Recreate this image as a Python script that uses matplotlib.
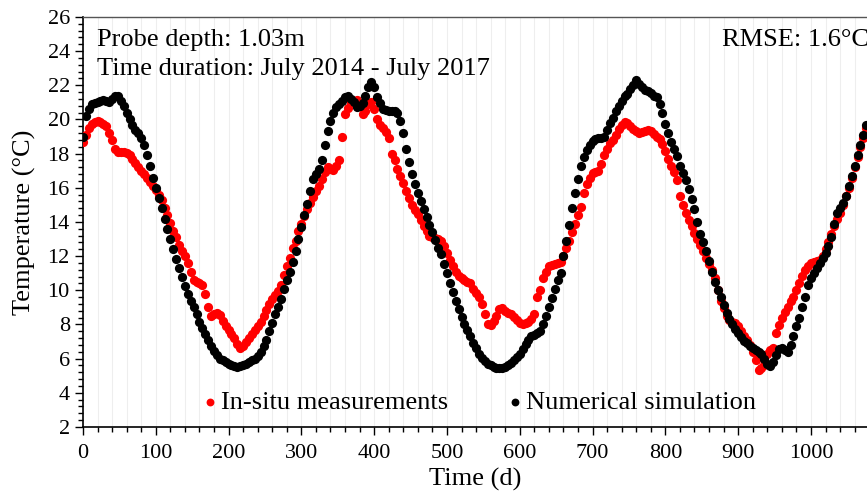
import numpy as np
import matplotlib
matplotlib.use("Agg")
import matplotlib.pyplot as plt
from matplotlib.ticker import AutoMinorLocator

plt.rcParams['font.family'] = ['Liberation Serif', 'DejaVu Serif']

# Time (d): one sample every 4 days, 0 .. 1076
days = np.arange(0, 1080, 4)

simulation = [
    19.0, 20.2, 20.6, 20.9, 20.95, 21.0, 21.1, 21.15, 21.1, 21.05,
    21.2, 21.35, 21.4, 21.1, 20.8, 20.4, 20.0, 19.7, 19.4, 19.2,
    18.9, 18.5, 17.9, 17.3, 16.6, 16.0, 15.4, 14.8, 14.2, 13.6,
    13.0, 12.4, 11.85, 11.3, 10.8, 10.25, 9.8, 9.4, 9.0, 8.6,
    8.15, 7.8, 7.45, 7.1, 6.75, 6.45, 6.2, 6.0, 5.9, 5.8,
    5.7, 5.6, 5.55, 5.5, 5.55, 5.6, 5.7, 5.8, 5.9, 6.0,
    6.15, 6.4, 6.75, 7.1, 7.6, 8.1, 8.6, 9.05, 9.5, 10.05,
    10.6, 11.1, 11.65, 12.3, 13.0, 13.7, 14.4, 15.05, 15.8, 16.5,
    16.8, 17.1, 17.6, 18.5, 19.3, 19.9, 20.4, 20.75, 20.9, 21.1,
    21.3, 21.4, 21.2, 21.0, 20.75, 20.8, 20.95, 21.4, 21.9, 22.2,
    21.9, 21.3, 20.95, 20.6, 20.55, 20.5, 20.5, 20.5, 20.4, 19.9,
    19.2, 18.3, 17.5, 16.8, 16.2, 15.7, 15.2, 14.75, 14.3, 13.85,
    13.4, 12.95, 12.5, 12.1, 11.55, 11.0, 10.45, 9.9, 9.4, 8.9,
    8.45, 8.0, 7.65, 7.3, 6.9, 6.6, 6.3, 6.05, 5.85, 5.7,
    5.6, 5.5, 5.45, 5.45, 5.45, 5.5, 5.6, 5.75, 5.9, 6.1,
    6.3, 6.55, 6.85, 7.1, 7.3, 7.4, 7.5, 7.6, 8.0, 8.5,
    9.0, 9.55, 10.1, 10.6, 11.0, 12.0, 12.9, 13.85, 14.8, 15.7,
    16.5, 17.3, 17.8, 18.2, 18.5, 18.75, 18.85, 18.9, 18.9, 19.0,
    19.4, 19.8, 20.1, 20.5, 20.8, 21.1, 21.35, 21.5, 21.8, 22.0,
    22.3, 22.1, 21.9, 21.75, 21.65, 21.55, 21.4, 21.3, 20.9, 20.4,
    19.75, 19.2, 18.7, 18.3, 17.85, 17.3, 16.85, 16.45, 15.95, 15.35,
    14.75, 14.0, 13.3, 12.8, 12.3, 11.7, 11.1, 10.5, 10.0, 9.6,
    9.15, 8.7, 8.3, 8.0, 7.75, 7.5, 7.25, 7.05, 6.9, 6.75,
    6.6, 6.5, 6.4, 6.25, 6.0, 5.7, 5.55, 5.8, 6.2, 6.55,
    6.6, 6.5, 6.4, 6.8, 7.3, 7.9, 8.4, 9.0, 9.6, 10.3,
    10.7, 11.0, 11.3, 11.6, 11.9, 12.2, 12.6, 13.1, 13.9, 14.5,
    14.8, 15.1, 15.5, 16.1, 16.7, 17.3, 17.9, 18.5, 19.1, 19.7,
]

measured = [
    18.7, 19.1, 19.5, 19.75, 19.85, 19.9, 19.85, 19.75, 19.6, 19.2,
    18.8, 18.3, 18.1, 18.1, 18.1, 18.05, 17.9, 17.7, 17.45, 17.2,
    17.0, 16.8, 16.6, 16.35, 16.1, 15.85, 15.6, 15.3, 14.8, 14.4,
    13.95, 13.5, 13.1, 12.65, 12.3, 12.0, 11.6, 11.1, 10.6, 10.5,
    10.45, 10.3, 9.8, 9.0, 8.5, 8.6, 8.7, 8.55, 8.2, 7.9,
    7.7, 7.45, 7.2, 6.85, 6.6, 6.75, 6.95, 7.2, 7.45, 7.7,
    7.9, 8.15, 8.5, 8.85, 9.2, 9.5, 9.7, 9.95, 10.3, 10.9,
    11.4, 11.9, 12.45, 12.9, 13.45, 13.9, 14.35, 14.75, 15.1, 15.45,
    15.8, 16.1, 16.5, 16.9, 17.2, 17.1, 17.05, 17.3, 17.6, 19.0,
    20.3, 20.7, 21.0, 21.1, 21.15, 20.8, 20.3, 20.5, 20.9, 21.05,
    20.6, 20.0, 19.7, 19.5, 19.25, 18.9, 18.0, 17.6, 17.1, 16.7,
    16.3, 15.8, 15.4, 15.0, 14.7, 14.45, 14.1, 13.75, 13.5, 13.2,
    13.1, 13.05, 13.0, 12.9, 12.6, 12.2, 11.8, 11.45, 11.1, 10.85,
    10.7, 10.6, 10.5, 10.4, 10.1, 9.85, 9.6, 9.2, 8.6, 8.0,
    7.95, 8.2, 8.5, 8.9, 8.95, 8.8, 8.7, 8.6, 8.45, 8.25,
    8.1, 8.05, 8.1, 8.15, 8.3, 8.6, 9.6, 10.0, 10.7, 11.1,
    11.4, 11.5, 11.55, 11.6, 11.65, 12.0, 12.45, 12.9, 13.4, 13.9,
    14.4, 14.9, 15.7, 16.2, 16.6, 16.85, 16.95, 17.0, 17.4, 17.9,
    18.3, 18.6, 18.8, 19.1, 19.45, 19.65, 19.85, 19.8, 19.6, 19.45,
    19.3, 19.2, 19.25, 19.3, 19.4, 19.3, 19.15, 19.0, 18.85, 18.55,
    18.15, 17.7, 17.3, 16.9, 16.45, 15.5, 15.0, 14.5, 14.1, 13.75,
    13.35, 13.0, 12.65, 12.3, 11.9, 11.55, 11.2, 10.7, 10.0, 9.4,
    8.95, 8.5, 8.25, 8.15, 8.1, 7.9, 7.6, 7.35, 7.1, 6.8,
    6.4, 5.9, 5.35, 5.45, 5.65, 6.3, 6.5, 6.6, 7.5, 7.95,
    8.4, 8.75, 9.05, 9.35, 9.6, 10.0, 10.4, 10.85, 11.2, 11.45,
    11.6, 11.65, 11.7, 11.8, 12.0, 12.4, 12.85, 13.3, 13.75, 14.2,
    14.5, 15.0, 15.5, 16.0, 16.6, 17.2, 17.8, 18.4, 18.9, 19.5,
]

x_ticks = [0, 100, 200, 300, 400, 500, 600, 700, 800, 900, 1000]
y_ticks = [2, 4, 6, 8, 10, 12, 14, 16, 18, 20, 22, 24, 26]

fig = plt.figure(figsize=(8.67, 4.99), dpi=100)
ax = fig.add_axes([0.0957, 0.1443, 0.9043, 0.8217])

ax.scatter(days, measured, s=44, color='#ff0000', linewidths=0, zorder=3,
           label='In-situ measurements')
ax.scatter(days, simulation, s=44, color='#000000', linewidths=0, zorder=4,
           label='Numerical simulation')

ax.set_xlim(0, 1077)
ax.set_ylim(2, 26)
ax.set_xticks(x_ticks)
ax.set_yticks(y_ticks)
ax.xaxis.set_minor_locator(AutoMinorLocator(5))
ax.yaxis.set_minor_locator(AutoMinorLocator(5))
ax.grid(True, which='both', axis='x', color='#eeeeee', linewidth=0.8, zorder=0)
ax.set_axisbelow(True)

ax.tick_params(axis='both', which='major', direction='out', length=6, width=1,
               labelsize=16, color='black')
ax.tick_params(axis='both', which='minor', direction='out', length=3.5, width=1,
               color='black')
ax.tick_params(axis='x', which='major', pad=6)

for side in ['left', 'bottom']:
    ax.spines[side].set_color('black')
    ax.spines[side].set_linewidth(1.2)
ax.spines['top'].set_color('#555555')
ax.spines['top'].set_linewidth(1.0)
ax.spines['right'].set_visible(False)

ax.set_xlabel('Time (d)', fontsize=19, labelpad=4)
ax.set_ylabel('Temperature (°C)', fontsize=19, labelpad=8)

ax.text(0.018, 0.945, 'Probe depth: 1.03m', transform=ax.transAxes,
        fontsize=19, va='center', ha='left')
ax.text(0.018, 0.872, 'Time duration: July 2014 - July 2017', transform=ax.transAxes,
        fontsize=19, va='center', ha='left')
ax.text(0.815, 0.945, 'RMSE: 1.6°C', transform=ax.transAxes,
        fontsize=19, va='center', ha='left')

leg = ax.legend(loc='center', bbox_to_anchor=(0.506, 0.061), ncol=2, frameon=False,
                fontsize=19, handlelength=0.5, handletextpad=0.17,
                columnspacing=2.3, markerscale=0.85, borderaxespad=0)

fig.savefig('out.png', dpi=100)
